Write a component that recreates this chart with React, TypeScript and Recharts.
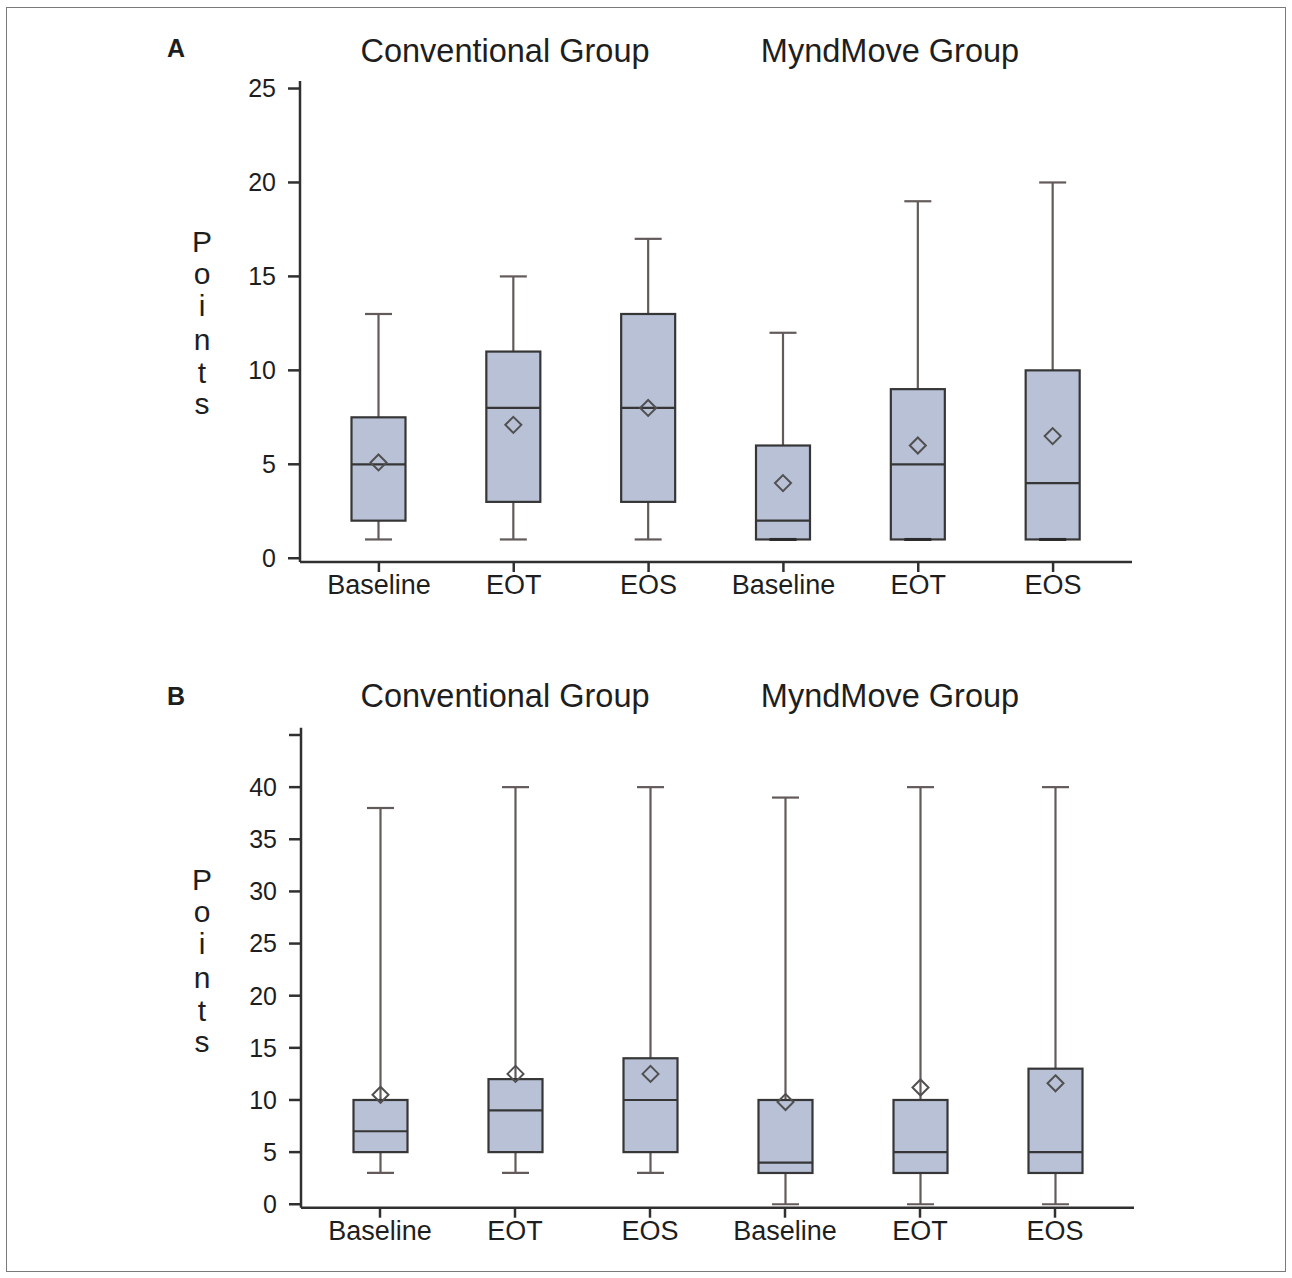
import React from 'react';
import { ComposedChart, Bar, XAxis, YAxis, Line } from 'recharts';

// ---------- data ----------
const categoryKeys = ['conv-baseline', 'conv-eot', 'conv-eos', 'mynd-baseline', 'mynd-eot', 'mynd-eos'];
const categoryLabels = ['Baseline', 'EOT', 'EOS', 'Baseline', 'EOT', 'EOS'];
const groupTitles = ['Conventional Group', 'MyndMove Group'];
const panelLetters = ['A', 'B'];
const yAxisTitle = 'Points';

// Panel A
const aMin = [1, 1, 1, 1, 1, 1];
const aQ1 = [2, 3, 3, 1, 1, 1];
const aMedian = [5, 8, 8, 2, 5, 4];
const aQ3 = [7.5, 11, 13, 6, 9, 10];
const aMax = [13, 15, 17, 12, 19, 20];
const aMean = [5.1, 7.1, 8, 4, 6, 6.5];
const aTicks = [0, 5, 10, 15, 20, 25];
const aDomain = [-0.2, 25.4];

// Panel B
const bMin = [3, 3, 3, 0, 0, 0];
const bQ1 = [5, 5, 5, 3, 3, 3];
const bMedian = [7, 9, 10, 4, 5, 5];
const bQ3 = [10, 12, 14, 10, 10, 13];
const bMax = [38, 40, 40, 39, 40, 40];
const bMean = [10.5, 12.5, 12.5, 9.8, 11.2, 11.6];
const bTicks = [0, 5, 10, 15, 20, 25, 30, 35, 40, 45];
const bUnlabeledTicks = [45];
const bDomain = [-0.33, 45.7];

const build = (mn: number[], q1: number[], md: number[], q3: number[], mx: number[], mean: number[]) =>
  categoryKeys.map((k, i) => ({
    key: k,
    label: categoryLabels[i],
    range: [mn[i], mx[i]],
    min: mn[i],
    q1: q1[i],
    median: md[i],
    q3: q3[i],
    max: mx[i],
    mean: mean[i],
  }));

const dataA = build(aMin, aQ1, aMedian, aQ3, aMax, aMean);
const dataB = build(bMin, bQ1, bMedian, bQ3, bMax, bMean);
const labelByKey: Record<string, string> = {};
categoryKeys.forEach((k, i) => (labelByKey[k] = categoryLabels[i]));

// ---------- styles ----------
const FONT = '"Liberation Sans", Arial, Helvetica, sans-serif';
const BOX_FILL = '#b8c1d6';
const BOX_STROKE = '#363636';
const WHISKER = '#635a5a';
const DIAMOND = '#505050';
const AXIS = '#303030';
const FRAME = '#505050';

const BoxShape = (props: any) => {
  const { x, y, width, height, payload } = props;
  if (payload == null || x == null || y == null) return null;
  const top = Math.min(y, y + height);
  const bottom = Math.max(y, y + height);
  const lo = payload.min;
  const hi = payload.max;
  const span = hi - lo || 1;
  const py = (v: number) => bottom - ((bottom - top) * (v - lo)) / span;
  const cx = x + width / 2;
  const capHalf = 13.5;
  const d = 8;
  const yMean = py(payload.mean);
  return (
    <g>
      <line x1={cx} x2={cx} y1={py(hi)} y2={py(lo)} stroke={WHISKER} strokeWidth={2.2} />
      <line x1={cx - capHalf} x2={cx + capHalf} y1={py(hi)} y2={py(hi)} stroke={WHISKER} strokeWidth={2.2} />
      <line x1={cx - capHalf} x2={cx + capHalf} y1={py(lo)} y2={py(lo)} stroke={WHISKER} strokeWidth={2.2} />
      <rect
        x={x}
        y={py(payload.q3)}
        width={width}
        height={py(payload.q1) - py(payload.q3)}
        fill={BOX_FILL}
        stroke={BOX_STROKE}
        strokeWidth={2.2}
      />
      {payload.min === payload.q1 ? (
        <line x1={cx - capHalf} x2={cx + capHalf} y1={py(lo)} y2={py(lo)} stroke="#2a2a2a" strokeWidth={3} />
      ) : null}
      <line x1={x} x2={x + width} y1={py(payload.median)} y2={py(payload.median)} stroke={BOX_STROKE} strokeWidth={2.2} />
      <path
        d={`M ${cx} ${yMean - d} L ${cx + d} ${yMean} L ${cx} ${yMean + d} L ${cx - d} ${yMean} Z`}
        fill="none"
        stroke={DIAMOND}
        strokeWidth={2}
      />
    </g>
  );
};

type PanelProps = {
  data: any[];
  ticks: number[];
  domain: number[];
  height: number;
  margin: { top: number; right: number; bottom: number; left: number };
  hidden?: number[];
};

const Panel = ({ data, ticks, domain, height, margin, hidden = [] }: PanelProps) => (
  <ComposedChart width={1292} height={height} data={data} margin={margin}>
    <XAxis
      dataKey="key"
      interval={0}
      padding={{ left: 11.5, right: 11.5 }}
      tickFormatter={(v: string) => labelByKey[v]}
      tickSize={10}
      tickMargin={3}
      height={50}
      tick={{ fontSize: 27, fill: '#1e1e1e', fontFamily: FONT }}
      axisLine={{ stroke: AXIS, strokeWidth: 2.5 }}
      tickLine={{ stroke: AXIS, strokeWidth: 2.5 }}
    />
    <XAxis
      xAxisId="top"
      dataKey="key"
      orientation="top"
      height={0}
      padding={{ left: 11.5, right: 11.5 }}
      tick={false}
      tickLine={false}
      axisLine={{ stroke: FRAME, strokeWidth: 2.5 }}
    />
    <YAxis
      type="number"
      domain={domain}
      allowDataOverflow
      ticks={ticks}
      interval={0}
      width={60}
      tickSize={12}
      tickMargin={12}
      tickFormatter={(v: number) => (hidden.includes(v) ? '' : String(v))}
      tick={{ fontSize: 25, fill: '#1e1e1e', fontFamily: FONT }}
      axisLine={{ stroke: AXIS, strokeWidth: 2.5 }}
      tickLine={{ stroke: AXIS, strokeWidth: 2.5 }}
    />
    <YAxis
      yAxisId="right"
      orientation="right"
      type="number"
      domain={domain}
      allowDataOverflow
      width={0}
      tick={false}
      tickLine={false}
      axisLine={{ stroke: FRAME, strokeWidth: 2.5 }}
    />
    <Bar dataKey="range" barSize={54} shape={BoxShape} isAnimationActive={false} />
    <Line
      xAxisId="top"
      yAxisId="right"
      dataKey="max"
      stroke="none"
      dot={false}
      activeDot={false}
      isAnimationActive={false}
    />
  </ComposedChart>
);

const PointsLabel = ({ baselines }: { baselines: number[] }) => (
  <>
    {yAxisTitle.split('').map((ch, i) => (
      <text key={i} x={202} y={baselines[i]} textAnchor="middle" fontSize={30} fill="#1e1e1e" fontFamily={FONT}>
        {ch}
      </text>
    ))}
  </>
);

const pointsA = [252, 284, 316, 350, 383, 414];
const pointsB = pointsA.map((v) => v + 638);

export default function App() {
  return (
    <div
      style={{
        position: 'absolute',
        left: 0,
        top: 0,
        width: 1292,
        height: 1278,
        background: '#ffffff',
        fontFamily: FONT,
        overflow: 'hidden',
      }}
    >
      <div
        style={{
          position: 'absolute',
          left: 6,
          top: 7,
          width: 1280,
          height: 1265,
          border: '1px solid #7a7a7a',
          boxSizing: 'border-box',
        }}
      />
      <div style={{ position: 'absolute', left: 0, top: 0 }}>
        <Panel
          data={dataA}
          ticks={aTicks}
          domain={aDomain}
          height={640}
          margin={{ top: 81, right: 160, bottom: 28, left: 240 }}
        />
      </div>
      <div style={{ position: 'absolute', left: 0, top: 640 }}>
        <Panel
          data={dataB}
          ticks={bTicks}
          domain={bDomain}
          hidden={bUnlabeledTicks}
          height={638}
          margin={{ top: 87.7, right: 158, bottom: 20.3, left: 241 }}
        />
      </div>
      <svg
        width={1292}
        height={1278}
        style={{ position: 'absolute', left: 0, top: 0, pointerEvents: 'none' }}
      >
        <text x={167} y={56.5} fontSize={25} fontWeight="bold" fill="#1e1e1e" fontFamily={FONT}>
          {panelLetters[0]}
        </text>
        <text x={505} y={62} textAnchor="middle" fontSize={32.5} fill="#1e1e1e" fontFamily={FONT}>
          {groupTitles[0]}
        </text>
        <text x={890} y={62} textAnchor="middle" fontSize={32.5} fill="#1e1e1e" fontFamily={FONT}>
          {groupTitles[1]}
        </text>
        <PointsLabel baselines={pointsA} />
        <text x={167} y={705} fontSize={25} fontWeight="bold" fill="#1e1e1e" fontFamily={FONT}>
          {panelLetters[1]}
        </text>
        <text x={505} y={707} textAnchor="middle" fontSize={32.5} fill="#1e1e1e" fontFamily={FONT}>
          {groupTitles[0]}
        </text>
        <text x={890} y={707} textAnchor="middle" fontSize={32.5} fill="#1e1e1e" fontFamily={FONT}>
          {groupTitles[1]}
        </text>
        <PointsLabel baselines={pointsB} />
      </svg>
    </div>
  );
}
